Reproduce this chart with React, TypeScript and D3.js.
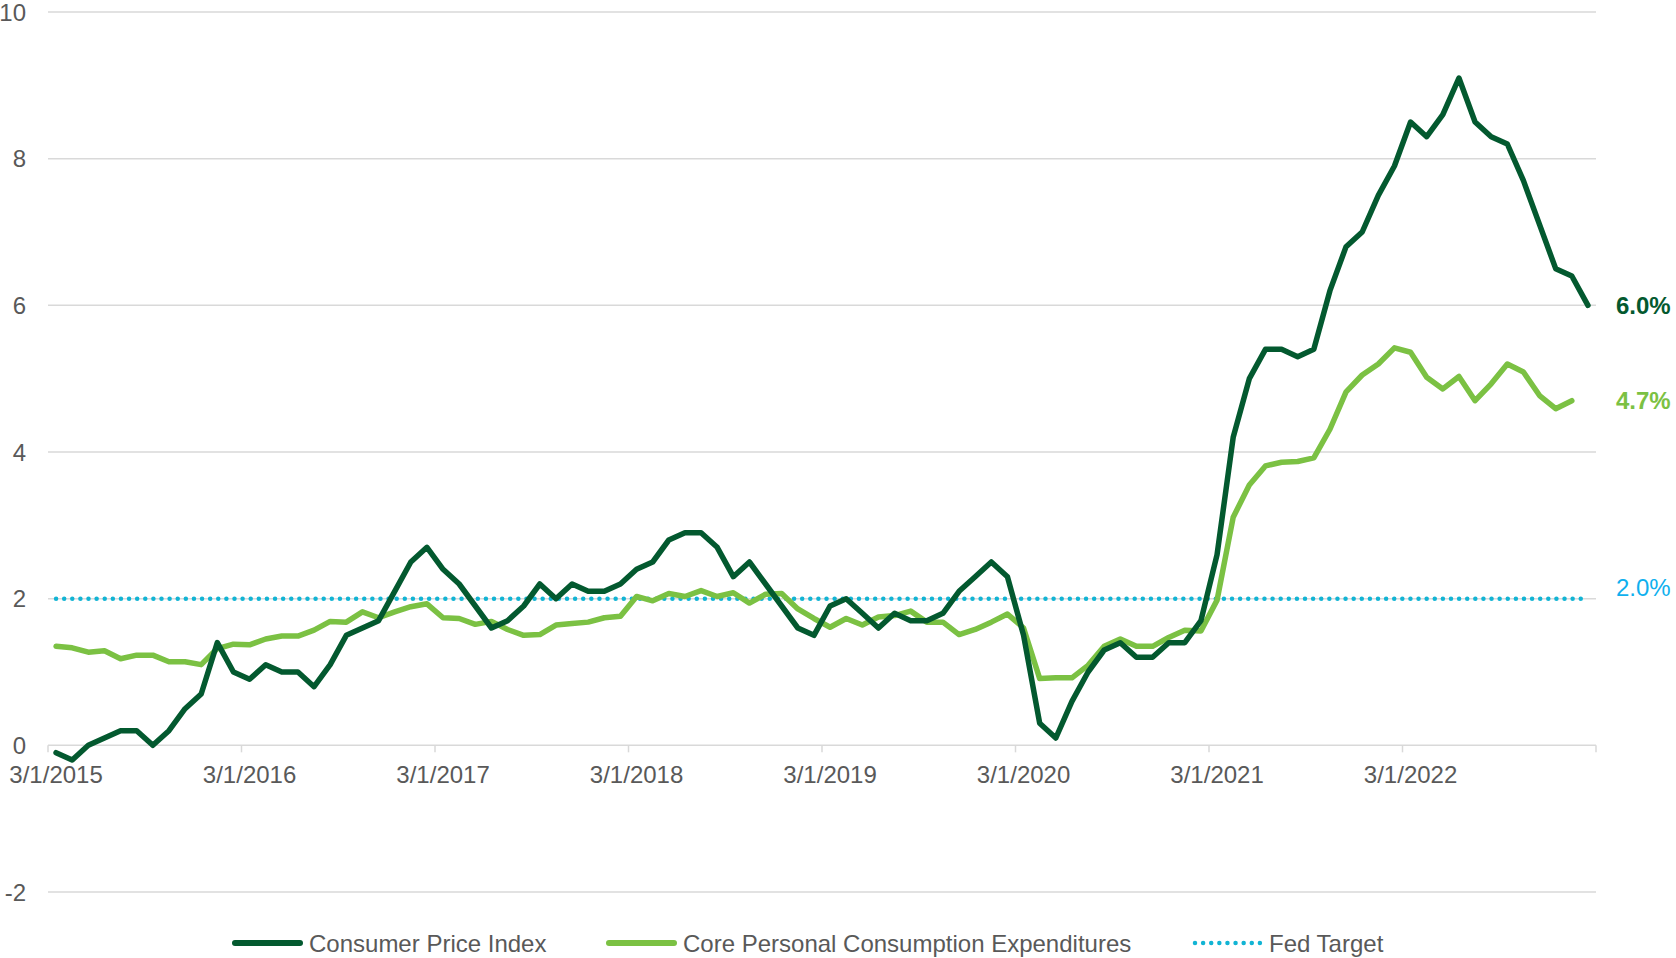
import React, { useEffect, useRef } from 'react'
import * as d3 from 'd3'

const width = 1676
const height = 958

// monthly, 3/1/2015 .. 2/1/2023
const cpi = [
  -0.1, -0.2, 0.0, 0.1, 0.2, 0.2, 0.0, 0.2, 0.5, 0.7,
  1.4, 1.0, 0.9, 1.1, 1.0, 1.0, 0.8, 1.1, 1.5, 1.6, 1.7, 2.1,
  2.5, 2.7, 2.4, 2.2, 1.9, 1.6, 1.7, 1.9, 2.2, 2.0, 2.2, 2.1,
  2.1, 2.2, 2.4, 2.5, 2.8, 2.9, 2.9, 2.7, 2.3, 2.5, 2.2, 1.9,
  1.6, 1.5, 1.9, 2.0, 1.8, 1.6, 1.8, 1.7, 1.7, 1.8, 2.1, 2.3,
  2.5, 2.3, 1.5, 0.3, 0.1, 0.6, 1.0, 1.3, 1.4, 1.2, 1.2, 1.4,
  1.4, 1.7, 2.6, 4.2, 5.0, 5.4, 5.4, 5.3, 5.4, 6.2, 6.8, 7.0,
  7.5, 7.9, 8.5, 8.3, 8.6, 9.1, 8.5, 8.3, 8.2, 7.7, 7.1, 6.5,
  6.4, 6.0
]

// monthly, 3/1/2015 .. 1/1/2023
const corePce = [
  1.35, 1.33, 1.27, 1.29, 1.18, 1.23, 1.23, 1.14, 1.14, 1.10,
  1.32, 1.38, 1.37, 1.45, 1.49, 1.49, 1.57, 1.69, 1.68, 1.82, 1.74, 1.82,
  1.89, 1.93, 1.74, 1.73, 1.65, 1.69, 1.58, 1.50, 1.51, 1.64, 1.66, 1.68,
  1.74, 1.76, 2.03, 1.97, 2.07, 2.03, 2.11, 2.03, 2.08, 1.94, 2.06, 2.07,
  1.86, 1.73, 1.61, 1.73, 1.64, 1.75, 1.77, 1.83, 1.68, 1.68, 1.51, 1.58,
  1.68, 1.79, 1.60, 0.91, 0.92, 0.92, 1.09, 1.35, 1.45, 1.35, 1.35, 1.47,
  1.57, 1.56, 1.98, 3.11, 3.55, 3.81, 3.86, 3.87, 3.92, 4.31, 4.82, 5.05,
  5.20, 5.42, 5.36, 5.02, 4.86, 5.03, 4.70, 4.93, 5.20, 5.09, 4.77, 4.59,
  4.70
]

const fedTarget = cpi.map(() => 2.0)

const yTicks = [-2, 0, 2, 4, 6, 8, 10]
const xTickLabels = ['3/1/2015', '3/1/2016', '3/1/2017', '3/1/2018', '3/1/2019', '3/1/2020', '3/1/2021', '3/1/2022']

const seriesNames = ['Consumer Price Index', 'Core Personal Consumption Expenditures', 'Fed Target']
const endLabels = ['6.0%', '4.7%', '2.0%']

const colors = {
  cpi: '#03592f',
  pce: '#7bc143',
  fed: '#12b4d4',
  fedText: '#0fb0ee',
  grid: '#d9d9d9',
  text: '#595959'
}

const font = '"Liberation Sans", Arial, Helvetica, sans-serif'

const App = () => {
  const ref = useRef(null)

  useEffect(() => {
    const months = d3.timeMonth.range(new Date(2015, 2, 1), new Date(2023, 2, 1))
    const fmt = d3.timeFormat('%-m/%-d/%Y')

    const x = d3.scaleBand()
      .domain(months.map(d => +d))
      .range([48, 1596])
    const cx = i => x(+months[i]) + x.bandwidth() / 2

    const y = d3.scaleLinear()
      .domain([-2, 10])
      .range([892, 12])

    const svg = d3.select(ref.current)
    svg.selectAll('*').remove()

    // gridlines
    svg.append('g')
      .selectAll('line')
      .data(yTicks)
      .join('line')
      .attr('x1', 48)
      .attr('x2', 1596)
      .attr('y1', d => y(d))
      .attr('y2', d => y(d))
      .attr('stroke', colors.grid)
      .attr('stroke-width', 1.5)

    svg.append('g')
      .selectAll('text')
      .data(yTicks)
      .join('text')
      .attr('x', 26)
      .attr('y', d => y(d))
      .attr('dy', '0.36em')
      .attr('text-anchor', 'end')
      .attr('font-family', font)
      .attr('font-size', 24)
      .attr('fill', colors.text)
      .text(d => d)

    // x ticks at year boundaries, labels centred on the month
    const tickIdx = d3.range(0, 97, 12)
    svg.append('g')
      .selectAll('line')
      .data(tickIdx)
      .join('line')
      .attr('x1', i => i < 96 ? x(+months[i]) : 1596)
      .attr('x2', i => i < 96 ? x(+months[i]) : 1596)
      .attr('y1', y(0))
      .attr('y2', y(0) + 7)
      .attr('stroke', colors.grid)
      .attr('stroke-width', 1.5)

    svg.append('g')
      .selectAll('text')
      .data(xTickLabels)
      .join('text')
      .attr('x', lbl => cx(months.findIndex(m => fmt(m) === lbl)))
      .attr('y', 783)
      .attr('text-anchor', 'middle')
      .attr('font-family', font)
      .attr('font-size', 24)
      .attr('fill', colors.text)
      .text(d => d)

    const line = d3.line()
      .x((d, i) => cx(i))
      .y(d => y(d))

    svg.append('path')
      .datum(fedTarget)
      .attr('fill', 'none')
      .attr('stroke', colors.fed)
      .attr('stroke-width', 4.5)
      .attr('stroke-linecap', 'round')
      .attr('stroke-dasharray', '0.01 8.1')
      .attr('d', line)

    svg.append('path')
      .datum(corePce)
      .attr('fill', 'none')
      .attr('stroke', colors.pce)
      .attr('stroke-width', 5.5)
      .attr('stroke-linejoin', 'round')
      .attr('stroke-linecap', 'round')
      .attr('d', line)

    svg.append('path')
      .datum(cpi)
      .attr('fill', 'none')
      .attr('stroke', colors.cpi)
      .attr('stroke-width', 5.5)
      .attr('stroke-linejoin', 'round')
      .attr('stroke-linecap', 'round')
      .attr('d', line)

    // end labels
    const endVals = [cpi[cpi.length - 1], corePce[corePce.length - 1], 2.0]
    const endColors = [colors.cpi, colors.pce, colors.fedText]
    svg.append('g')
      .selectAll('text')
      .data(endLabels)
      .join('text')
      .attr('x', 1616)
      .attr('y', (d, i) => y(endVals[i]) - (i === 2 ? 11 : 0))
      .attr('dy', '0.36em')
      .attr('font-family', font)
      .attr('font-size', 24)
      .attr('font-weight', (d, i) => i === 2 ? 'normal' : 'bold')
      .attr('fill', (d, i) => endColors[i])
      .text(d => d)

    // legend
    const legendX = [232, 606, 1192]
    const legendColors = [colors.cpi, colors.pce, colors.fed]
    const lg = svg.append('g')
    seriesNames.forEach((name, i) => {
      lg.append('line')
        .attr('x1', legendX[i] + 3)
        .attr('x2', legendX[i] + 68)
        .attr('y1', 943)
        .attr('y2', 943)
        .attr('stroke', legendColors[i])
        .attr('stroke-width', i === 2 ? 4.5 : 6)
        .attr('stroke-linecap', 'round')
        .attr('stroke-dasharray', i === 2 ? '0.01 8.1' : null)
      lg.append('text')
        .attr('x', legendX[i] + 77)
        .attr('y', 952)
        .attr('font-family', font)
        .attr('font-size', 24)
        .attr('fill', colors.text)
        .text(name)
    })
  }, [])

  return (
    <svg
      ref={ref}
      width={width}
      height={height}
      style={{ position: 'absolute', left: 0, top: 0, background: '#fff' }}
    />
  )
}

export default App
